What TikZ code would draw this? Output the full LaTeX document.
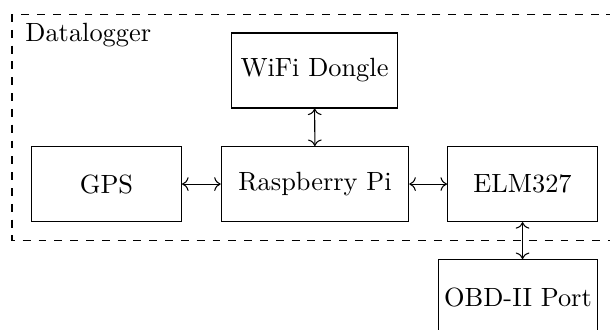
\documentclass[tikz,border=0pt]{standalone}
\usetikzlibrary{arrows.meta}
\begin{document}
\begin{tikzpicture}[
  blk/.style={draw, minimum height=1cm, align=center},
  conn/.style={<->},
]
\useasboundingbox (0,0) rectangle (8.133,4.387);
\begin{scope}
\clip (0,0) rectangle (8.133,4.387);
\node[blk, minimum width=2cm] (gps) at (1.42,1.933) {GPS};
\node[blk, minimum width=2.5cm] (rpi) at (4.2,1.933) {Raspberry Pi};
\node[blk, minimum width=2cm] (elm) at (6.967,1.933) {ELM327};
\node[blk, minimum width=2cm] (wifi) at (4.193,3.447) {WiFi Dongle};
\node[blk, minimum width=2.12cm, inner xsep=1pt, anchor=north east] (obd) at (7.973,0.933) {OBD-II Port};
\coordinate (dnw) at (0.16,4.2);
\coordinate (dse) at (8.22,1.18);
\draw[dashed] (dnw) rectangle (dse);
\node[anchor=north west, inner sep=0.117cm] (dl) at (0.215,4.2) {Datalogger};
\draw[conn] (gps) -- (rpi);
\draw[conn] (rpi) -- (elm);
\draw[conn] (wifi) -- (rpi);
\draw[conn] (elm.south) -- (elm.south |- obd.north);
\end{scope}
\end{tikzpicture}
\end{document}
